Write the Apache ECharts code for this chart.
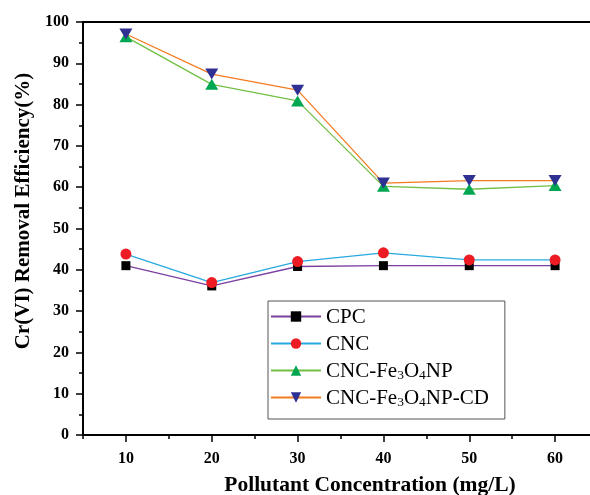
<!DOCTYPE html>
<html>
<head>
<meta charset="utf-8">
<script src="https://cdn.jsdelivr.net/npm/echarts@6/dist/echarts.min.js"></script>
<style>
  html, body { margin: 0; padding: 0; background: #fff; }
  #chart { width: 590px; height: 495px; }
</style>
</head>
<body>
<div id="chart"></div>
<script>
// Initial Cr(VI) concentration (mg/L)
var concentrations = [10, 20, 30, 40, 50, 60];

// Removal efficiency (%) for each adsorbent
var cpc = [41.0, 36.1, 40.8, 41.0, 41.0, 41.0];
var cnc = [43.8, 36.9, 42.0, 44.1, 42.4, 42.4];
var cncFe3O4 = [96.4, 84.9, 80.9, 60.2, 59.5, 60.4];
var cncFe3O4CD = [97.1, 87.4, 83.5, 61.0, 61.6, 61.6];

var seriesNames = ['CPC', 'CNC', 'CNC-Fe3O4NP', 'CNC-Fe3O4NP-CD'];

var xMajorTicks = [10, 20, 30, 40, 50, 60];
var xMinorTicks = [5, 15, 25, 35, 45, 55, 65];

function pairs(values) {
  return concentrations.map(function (c, i) { return [c, values[i]]; });
}

var serif = 'Liberation Serif';

var chart = echarts.init(document.getElementById('chart'));

function lineSeries(name, values, lineColor, symbol, symbolColor, size, rotate) {
  return {
    name: name,
    type: 'line',
    xAxisIndex: 0,
    data: pairs(values),
    symbol: symbol,
    symbolSize: size,
    symbolRotate: rotate || 0,
    lineStyle: { color: lineColor, width: 1.3 },
    itemStyle: { color: symbolColor, borderWidth: 0 },
    emphasis: { disabled: true },
    animation: false
  };
}

chart.setOption({
  backgroundColor: '#fff',
  animation: false,
  grid: {
    left: 83, top: 22, width: 515, height: 413,
    containLabel: false,
    outerBoundsMode: 'none',
    show: true, borderColor: '#000', borderWidth: 1.8, backgroundColor: 'transparent'
  },
  legend: {
    orient: 'vertical',
    left: 268, top: 301,
    padding: [6, 16, 10, 2],
    itemGap: 6,
    itemWidth: 50,
    itemHeight: 13,
    borderColor: '#555',
    borderWidth: 1,
    data: seriesNames,
    formatter: function (name) {
      if (name === 'CNC-Fe3O4NP') return '{a|CNC-Fe}{s|3}{a|O}{s|4}{a|NP}';
      if (name === 'CNC-Fe3O4NP-CD') return '{a|CNC-Fe}{s|3}{a|O}{s|4}{a|NP-CD}';
      return '{a|' + name + '}';
    },
    textStyle: {
      fontFamily: serif, fontSize: 21, color: '#000',
      rich: {
        a: { fontFamily: serif, fontSize: 21, color: '#000', lineHeight: 23, verticalAlign: 'bottom' },
        s: { fontFamily: serif, fontSize: 13.5, color: '#000', lineHeight: 10, verticalAlign: 'bottom' }
      }
    }
  },
  xAxis: [
    {
      type: 'value',
      min: 5, max: 65,
      position: 'bottom',
      name: 'Pollutant Concentration (mg/L)',
      nameLocation: 'middle',
      nameGap: 39,
      nameTextStyle: {
        fontFamily: serif, fontWeight: 'bold', fontSize: 21.5, color: '#000',
        padding: [0, 0, 0, 59]
      },
      axisLine: { lineStyle: { color: '#000', width: 1.8 } },
      axisTick: { show: true, inside: false, length: 7, customValues: xMajorTicks, lineStyle: { color: '#000', width: 1.5 } },
      axisLabel: {
        customValues: xMajorTicks,
        margin: 16,
        fontFamily: serif, fontWeight: 'bold', fontSize: 16, color: '#000'
      },
      splitLine: { show: false }
    },
    {
      type: 'value',
      min: 5, max: 65,
      position: 'bottom',
      axisLine: { show: false },
      axisTick: { show: true, inside: false, length: 4, customValues: xMinorTicks, lineStyle: { color: '#000', width: 1.5 } },
      axisLabel: { show: false },
      splitLine: { show: false }
    }
  ],
  yAxis: {
    type: 'value',
    min: 0, max: 100, interval: 10,
    name: 'Cr(VI) Removal Efficiency(%)',
    nameLocation: 'middle',
    nameGap: 48,
    nameTextStyle: {
      fontFamily: serif, fontWeight: 'bold', fontSize: 21, color: '#000',
      padding: [0, 0, 0, 35]
    },
    axisLine: { lineStyle: { color: '#000', width: 1.8 } },
    axisTick: { show: true, inside: false, length: 7, lineStyle: { color: '#000', width: 1.5 } },
    minorTick: { show: true, splitNumber: 2, length: 4, lineStyle: { color: '#000', width: 1.5 } },
    axisLabel: { margin: 14, fontFamily: serif, fontWeight: 'bold', fontSize: 16, color: '#000' },
    splitLine: { show: false }
  },
  series: [
    lineSeries('CPC', cpc, '#7b3fa0', 'rect', '#000', 9),
    lineSeries('CNC', cnc, '#28a9e1', 'circle', '#ed1c24', 11),
    lineSeries('CNC-Fe3O4NP', cncFe3O4, '#72bf44', 'triangle', '#00a651', [13, 11]),
    lineSeries('CNC-Fe3O4NP-CD', cncFe3O4CD, '#f47b20', 'triangle', '#2e3192', [13, 11], 180)
  ]
});
</script>
</body>
</html>
